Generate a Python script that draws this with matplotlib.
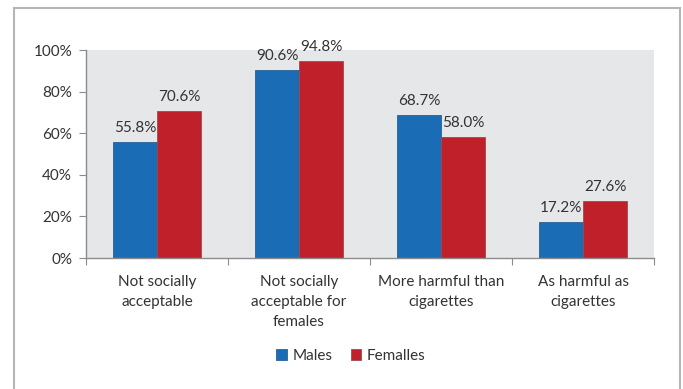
import matplotlib
matplotlib.use("Agg")
import matplotlib.pyplot as plt
from matplotlib.patches import Rectangle
import numpy as np

categories = ["Not socially\nacceptable", "Not socially\nacceptable for\nfemales",
              "More harmful than\ncigarettes", "As harmful as\ncigarettes"]
males = [55.8, 90.6, 68.7, 17.2]
females = [70.6, 94.8, 58.0, 27.6]
series_names = ["Males", "Femalles"]
yticks = [0, 20, 40, 60, 80, 100]

plt.rcParams['font.family'] = ['Lato', 'DejaVu Sans']
FS = 11
text_color = "#333333"
blue = "#1a6db5"
red = "#c0202a"

W, H = 683, 389
fig = plt.figure(figsize=(W/100, H/100), dpi=100)
fig.patch.set_facecolor("white")

# outer border
fig.patches.append(Rectangle((13.5/W, -0.05), (680 - 13.5)/W, 1.05 - 7.5/H,
                             transform=fig.transFigure, fill=False,
                             edgecolor="#b5b5b8", linewidth=1.5))

ax = fig.add_axes([86/W, (H-258)/H, (654-86)/W, (258-50)/H])
ax.set_facecolor("#e6e7e9")

x = np.arange(len(categories))
bw = 0.31
bm = ax.bar(x - bw/2, males, bw, color=blue, edgecolor="#2a5f95",
            linewidth=0.6, label=series_names[0])
bf = ax.bar(x + bw/2, females, bw, color=red, edgecolor="#9a4a50",
            linewidth=0.6, label=series_names[1])

for bars, vals in ((bm, males), (bf, females)):
    for b, v in zip(bars, vals):
        ax.annotate(f"{v:.1f}%", (b.get_x() + b.get_width()/2, v),
                    xytext=(0, 5), textcoords="offset points",
                    ha="center", va="bottom", fontsize=FS, color=text_color)

ax.set_xlim(-0.5, 3.5)
ax.set_ylim(0, 100)
ax.set_yticks(yticks)
ax.set_yticklabels([f"{t}%" for t in yticks], fontsize=FS, color=text_color)
ax.set_xticks(np.arange(-0.5, 4, 1.0))
ax.set_xticklabels([])
ax.set_xticks(x, minor=True)
ax.set_xticklabels(categories, minor=True, fontsize=FS, color=text_color,
                   linespacing=1.55, va="top")
ax.tick_params(axis="x", which="minor", length=0, pad=12)
ax.tick_params(axis="x", which="major", length=5, color="#8c8c8c", direction="out")
ax.tick_params(axis="y", length=5, color="#8c8c8c", direction="out", pad=5)

for s in ("top", "right"):
    ax.spines[s].set_visible(False)
for s in ("left", "bottom"):
    ax.spines[s].set_color("#8c8c8c")
    ax.spines[s].set_linewidth(1.0)

leg = fig.legend(handles=[bm, bf], labels=series_names, loc="center",
                 bbox_to_anchor=(351/W, 1 - 356/H), ncol=2, frameon=False,
                 fontsize=FS, handlelength=0.7, handleheight=0.7,
                 handletextpad=0.35, columnspacing=1.2)
for t in leg.get_texts():
    t.set_color(text_color)

fig.savefig("out.png", dpi=100)
